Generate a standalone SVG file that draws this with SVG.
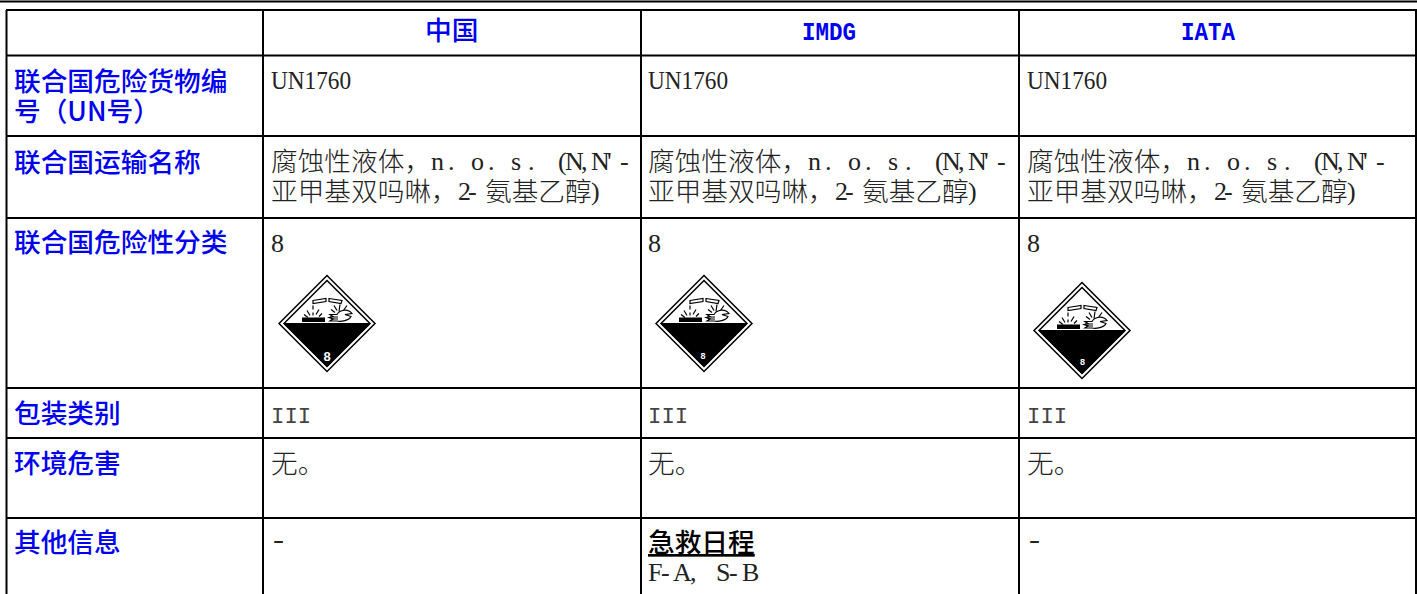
<svg xmlns="http://www.w3.org/2000/svg" width="1417" height="594" viewBox="0 0 1417 594">
<style>
.g{stroke:#000;stroke-width:2;fill:none}
.h{font-family:"Noto Sans CJK SC","Liberation Sans",sans-serif;font-size:26.7px;fill:#0000f0;font-weight:500}
.hm{font-family:"Liberation Mono",monospace;font-size:26px;fill:#0000f0;font-weight:700}
.b{font-family:"Noto Sans CJK SC","Liberation Serif",sans-serif;font-size:26.7px;fill:#222;font-weight:300}
.m{font-family:"Liberation Serif",serif;font-size:26px;fill:#222}
.i{font-family:"Liberation Mono",monospace;font-size:22.3px;fill:#444}
.k{font-family:"Noto Sans CJK SC",sans-serif;font-size:26.7px;fill:#000;font-weight:500}
.n{font-family:"Liberation Sans",sans-serif;font-weight:700;fill:#fff;text-anchor:middle}
</style>
<defs>
<g id="sign">
<path d="M0-48 48 0 0 48-48 0Z" fill="#fff" stroke="#000" stroke-width="1.500"/>
<path d="M0-43 43 0 0 43-43 0Z" fill="#fff" stroke="#000" stroke-width="1.500"/>
<path d="M-43 0H43L0 43Z" fill="#000" stroke="#000"/>
<g stroke="#000" fill="none" stroke-width="1.200">
<path d="M-14-23-1-25-1-22-14-20Z"/>
<path d="M2-25 15-23 14-20 2-22Z"/>
<path d="M-14-18V-14M-14-11V-8M-20-13-17-8M-8-14-11-9M-23-9-19-6M-5-10-8-7"/>
<path d="M7-18 10-13M13-19 12-12M20-18 15-11M4-14 8-11"/>
<path d="M3-9H10C13-14 21-15 25-10L18-9 24-7C22-3 14-1.500 10-2.500H3L6-4.500 2-6 6-7Z" fill="#fff"/>
<path d="M3-6.500H11M4-4.500H11"/>
</g>
<rect x="-25" y="-6" width="23" height="4.500" fill="#000"/>
</g>
</defs>
<rect x="0" y="0.500" width="1417" height="2" fill="#000"/>
<g id="grid" class="g">
<path d="M6 10H1417M6 55.500H1417M6 136H1417M6 218H1417M6 388H1417M6 438H1417M6 518H1417"/>
<path d="M6.500 10V594M263 10V594M641 10V594M1019 10V594M1416 10V594"/>
</g>
<g id="header">
<text class="h" x="425" y="40" font-weight="700">中国</text>
<text class="hm" x="802" y="40" textLength="54" lengthAdjust="spacingAndGlyphs">IMDG</text>
<text class="hm" x="1181" y="40" textLength="54" lengthAdjust="spacingAndGlyphs">IATA</text>
</g>
<g id="row-labels">
<text class="h" x="14" y="91">联合国危险货物编</text>
<text class="h" x="14" y="121">号（UN号）</text>
<text class="h" x="14" y="172">联合国运输名称</text>
<text class="h" x="14" y="252">联合国危险性分类</text>
<text class="h" x="14" y="423">包装类别</text>
<text class="h" x="14" y="473">环境危害</text>
<text class="h" x="14" y="552">其他信息</text>
</g>
<g id="col-china">
<text class="m" x="271" y="89" textLength="80" lengthAdjust="spacingAndGlyphs">UN1760</text>
<text class="b" x="271" y="171">腐蚀性液体，</text><text class="m" y="170" x="431 448 471 488 511 528">n.o.s.</text><text class="m" y="170" font-size="22" x="558 565 581 591 607 620">(N,N'-</text>
<text class="b" x="271" y="201">亚甲基双吗啉，</text><text class="m" y="200" x="458 468">2-</text><text class="b" x="485" y="201">氨基乙醇</text><text class="m" x="591" y="200">)</text>
<text class="m" x="271" y="252">8</text>
<use href="#sign" x="327" y="323.500"/><text class="n" x="327" y="361" font-size="13">8</text>
<text class="i" x="271" y="423">III</text>
<text class="b" x="271" y="473">无。</text>
<text class="m" x="273" y="548" textLength="11" lengthAdjust="spacingAndGlyphs">-</text>
</g>
<g id="col-imdg">
<text class="m" x="648" y="89" textLength="80" lengthAdjust="spacingAndGlyphs">UN1760</text>
<text class="b" x="648" y="171">腐蚀性液体，</text><text class="m" y="170" x="808 825 848 865 888 905">n.o.s.</text><text class="m" y="170" font-size="22" x="935 942 958 968 984 997">(N,N'-</text>
<text class="b" x="648" y="201">亚甲基双吗啉，</text><text class="m" y="200" x="835 845">2-</text><text class="b" x="862" y="201">氨基乙醇</text><text class="m" x="968" y="200">)</text>
<text class="m" x="648" y="252">8</text>
<use href="#sign" x="704" y="323.500"/><text class="n" x="703" y="359" font-size="9">8</text>
<text class="i" x="648" y="423">III</text>
<text class="b" x="648" y="473">无。</text>
<text class="k" x="648" y="552" text-decoration="underline">急救日程</text>
<text class="m" x="648 661 673 690 716 729 742" y="581">F-A,S-B</text>
</g>
<g id="col-iata">
<text class="m" x="1027" y="89" textLength="80" lengthAdjust="spacingAndGlyphs">UN1760</text>
<text class="b" x="1027" y="171">腐蚀性液体，</text><text class="m" y="170" x="1187 1204 1227 1244 1267 1284">n.o.s.</text><text class="m" y="170" font-size="22" x="1314 1321 1337 1347 1363 1376">(N,N'-</text>
<text class="b" x="1027" y="201">亚甲基双吗啉，</text><text class="m" y="200" x="1214 1224">2-</text><text class="b" x="1241" y="201">氨基乙醇</text><text class="m" x="1347" y="200">)</text>
<text class="m" x="1027" y="252">8</text>
<use href="#sign" x="1082" y="330.500"/><text class="n" x="1082.500" y="365" font-size="9">8</text>
<text class="i" x="1027" y="423">III</text>
<text class="b" x="1027" y="473">无。</text>
<text class="m" x="1029" y="548" textLength="11" lengthAdjust="spacingAndGlyphs">-</text>
</g>
</svg>
